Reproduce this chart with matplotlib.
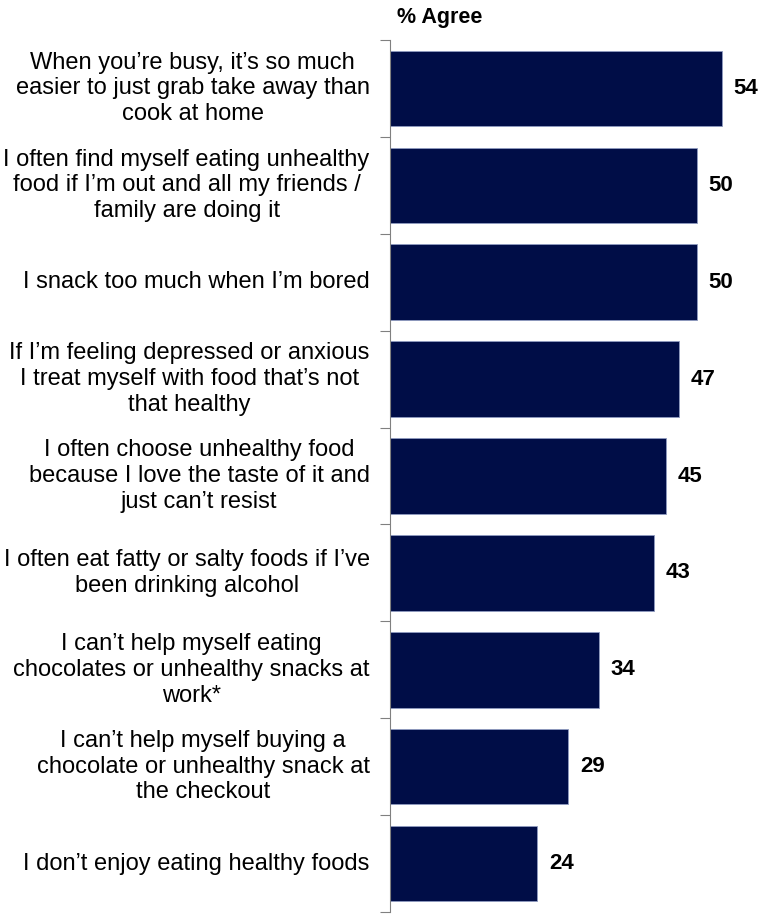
import matplotlib.pyplot as plt
import numpy as np

statements = [
    "When you\u2019re busy, it\u2019s so much\neasier to just grab take away than\ncook at home",
    "I often find myself eating unhealthy\nfood if I\u2019m out and all my friends /\nfamily are doing it",
    "I snack too much when I\u2019m bored",
    "If I\u2019m feeling depressed or anxious\nI treat myself with food that\u2019s not\nthat healthy",
    "I often choose unhealthy food\nbecause I love the taste of it and\njust can\u2019t resist",
    "I often eat fatty or salty foods if I\u2019ve\nbeen drinking alcohol",
    "I can\u2019t help myself eating\nchocolates or unhealthy snacks at\nwork*",
    "I can\u2019t help myself buying a\nchocolate or unhealthy snack at\nthe checkout",
    "I don\u2019t enjoy eating healthy foods",
]
agree = [54, 50, 50, 47, 45, 43, 34, 29, 24]

plt.rcParams['font.family'] = ['Liberation Sans', 'DejaVu Sans']

fig = plt.figure(figsize=(7.61, 9.15), dpi=100)
ax = fig.add_axes([390 / 761, 3 / 915, 371 / 761, 872 / 915])

y = np.arange(len(agree))
ax.barh(y, agree, height=0.78, color='#000D47', edgecolor='#8F9BC0', linewidth=0.6)
ax.set_ylim(len(agree) - 0.5, -0.5)
ax.set_xlim(0, 60.4)

for yi, v, s in zip(y, agree, statements):
    ax.text(v + 1.9, yi, str(v), va='center', ha='left', fontsize=16, fontweight='bold')
    ax.text(-3.3, yi, s, va='center', ha='right', multialignment='center',
            fontsize=17, linespacing=1.22)

ax.text(1.1, -0.62, "% Agree", fontsize=15.5, fontweight='bold', va='bottom', ha='left')

for sp in ['top', 'right', 'bottom']:
    ax.spines[sp].set_visible(False)
ax.spines['left'].set_color('#808080')
ax.set_xticks([])
ax.set_yticks(np.arange(-0.5, len(agree), 1.0))
ax.set_yticklabels([])
ax.tick_params(axis='y', direction='out', length=7, color='#808080')

fig.savefig('out.png', dpi=100)
